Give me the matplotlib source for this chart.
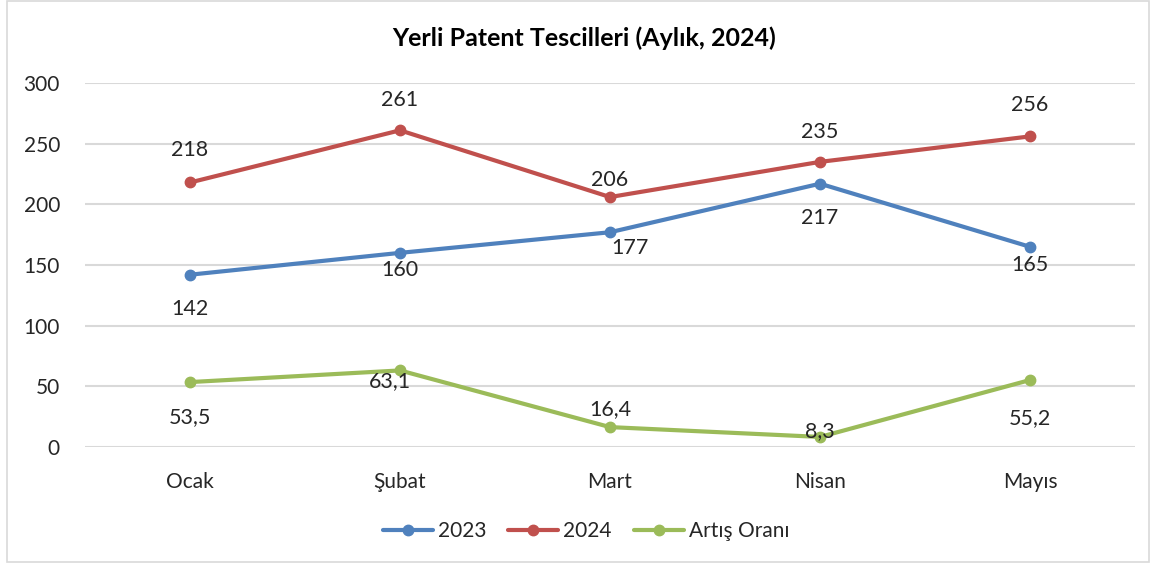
import matplotlib
matplotlib.use("Agg")
import matplotlib.pyplot as plt
from matplotlib.patches import Rectangle

plt.rcParams['font.family'] = ['Lato', 'DejaVu Sans']

months = ["Ocak", "Şubat", "Mart", "Nisan", "Mayıs"]
v2023 = [142, 160, 177, 217, 165]
v2024 = [218, 261, 206, 235, 256]
artis = [53.5, 63.1, 16.4, 8.3, 55.2]
artis_labels = ["53,5", "63,1", "16,4", "8,3", "55,2"]
yticks = [0, 50, 100, 150, 200, 250, 300]
title = "Yerli Patent Tescilleri (Aylık, 2024)"

W, H = 1156, 564
fig = plt.figure(figsize=(W / 100, H / 100), dpi=100)
fig.patches.append(Rectangle((7 / W, 2 / H), 1 - 14 / W, 1 - 3 / H, transform=fig.transFigure,
                             fill=False, edgecolor="#D9D9D9", linewidth=1.2))
ax = fig.add_axes([85 / W, 1 - 447 / H, 1050 / W, 364 / H])

c23, c24, cg = "#4F81BD", "#C0504D", "#9BBB59"
x = list(range(len(months)))
kw = dict(linewidth=3.0, marker="o", markersize=7.5, solid_capstyle="round")
ax.plot(x, v2023, color=c23, label="2023", **kw)
ax.plot(x, v2024, color=c24, label="2024", **kw)
ax.plot(x, artis, color=cg, label="Artış Oranı", **kw)

ax.set_xlim(-0.5, 4.5)
ax.set_ylim(0, 300)
ax.set_yticks(yticks)
ax.set_xticks(x)
ax.set_xticklabels(months)
ax.tick_params(axis="both", length=0, labelsize=15, colors="#262626")
ax.tick_params(axis="y", pad=18)
ax.tick_params(axis="x", pad=18)
ax.grid(axis="y", color="#D9D9D9", linewidth=1.5)
ax.set_axisbelow(True)
for s in ax.spines.values():
    s.set_visible(False)

fs = 15.5
px = 0.72  # pixels -> points at dpi 100
off24 = [(0, 32), (0, 30), (0, 17), (0, 30), (0, 31)]
off23 = [(0, -34), (0, -17), (20, -16), (0, -34), (0, -18)]
offg = [(0, -35), (-10, -11), (0, 18), (0, 6), (0, -38)]
for i, v in enumerate(v2024):
    dx, dy = off24[i]
    ax.annotate(str(v), (i, v), xytext=(dx * px, dy * px), textcoords="offset points",
                ha="center", va="center", fontsize=fs, color="#262626")
for i, v in enumerate(v2023):
    dx, dy = off23[i]
    ax.annotate(str(v), (i, v), xytext=(dx * px, dy * px), textcoords="offset points",
                ha="center", va="center", fontsize=fs, color="#262626")
for i, (v, lab) in enumerate(zip(artis, artis_labels)):
    dx, dy = offg[i]
    ax.annotate(lab, (i, v), xytext=(dx * px, dy * px), textcoords="offset points",
                ha="center", va="center", fontsize=fs, color="#262626")

fig.text(584 / W, 1 - 38 / H, title, ha="center", va="center", fontsize=18,
         fontweight="bold", color="#000000")

leg = fig.legend(loc="center", bbox_to_anchor=(586 / W, 1 - 531 / H), ncol=3,
                 frameon=False, fontsize=15, handlelength=2.4, columnspacing=1.05,
                 handletextpad=0.25)
for t in leg.get_texts():
    t.set_color("#262626")

fig.savefig("out.png", dpi=100)
